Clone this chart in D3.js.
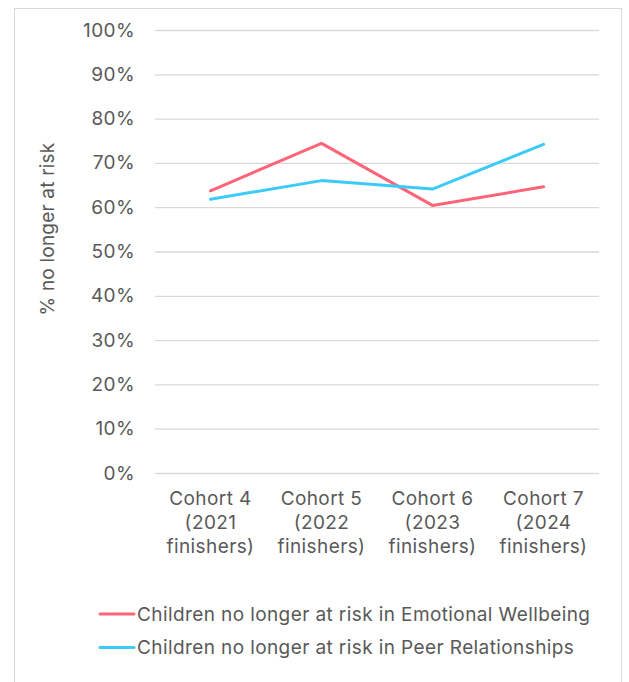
<!DOCTYPE html>
<html>
<head>
<meta charset="utf-8">
<script src="https://cdn.jsdelivr.net/npm/d3@7"></script>
<style>
  body { margin: 0; background: #fff; }
  text { font-family: Inter, "Noto Sans", sans-serif; fill: #595959; letter-spacing: 0.4px; }
</style>
</head>
<body>
<div id="canvas"></div>
<script>
const cohorts = ["Cohort 4|(2021|finishers)", "Cohort 5|(2022|finishers)", "Cohort 6|(2023|finishers)", "Cohort 7|(2024|finishers)"];
const emotional = [63.7, 74.4, 60.4, 64.6];
const peer = [61.8, 66.0, 64.1, 74.2];
const yTicks = [0, 10, 20, 30, 40, 50, 60, 70, 80, 90, 100];
const seriesNames = ["Children no longer at risk in Emotional Wellbeing", "Children no longer at risk in Peer Relationships"];
const seriesColors = ["#ff6479", "#3ccaf8"];

const w = 629, h = 682;
const plotL = 155, plotR = 599, plotT = 30, plotB = 473;
const fs = "19px";

const svg = d3.select("#canvas").append("svg").attr("width", w).attr("height", h);

// outer frame
svg.append("rect").attr("x", 14.5).attr("y", 8.5).attr("width", 607).attr("height", 690)
   .attr("fill", "none").attr("stroke", "#d9d9d9").attr("stroke-width", 1);

const xScale = d3.scaleBand().domain(cohorts).range([plotL, plotR]);
const yScale = d3.scaleLinear().domain([0, 100]).range([plotB, plotT]);

// gridlines
svg.append("g").selectAll("line").data(yTicks).enter().append("line")
   .attr("x1", plotL).attr("x2", plotR)
   .attr("y1", d => yScale(d) + 0.5).attr("y2", d => yScale(d) + 0.5)
   .attr("stroke", "#d9d9d9").attr("stroke-width", 1.3);

const yAxis = d3.axisLeft(yScale).tickValues(yTicks).tickFormat(d => d + "%").tickSize(0).tickPadding(20);
const gy = svg.append("g").attr("transform", "translate(" + plotL + ",0)").call(yAxis);
gy.select(".domain").remove();
gy.selectAll("text").style("font-size", fs).style("fill", "#595959").style("font-family", "Inter");

// x labels, multi-line
const gx = svg.append("g");
cohorts.forEach(c => {
  const cx = xScale(c) + xScale.bandwidth() / 2;
  const t = gx.append("text").attr("text-anchor", "middle")
    .attr("x", cx).attr("y", 505)
    .style("font-size", fs);
  c.split("|").forEach((ln, i) => {
    t.append("tspan").attr("x", cx).attr("dy", i == 0 ? 0 : 24).text(ln);
  });
});

svg.append("text").text("% no longer at risk")
   .attr("transform", "translate(54,229) rotate(-90)")
   .attr("text-anchor", "middle").style("font-size", fs).style("letter-spacing", "0.2px");

const line = d3.line().x((d, i) => xScale(cohorts[i]) + xScale.bandwidth() / 2).y(d => yScale(d));
[emotional, peer].forEach((s, k) => {
  svg.append("path").datum(s).attr("d", line).attr("fill", "none")
     .attr("stroke", seriesColors[k]).attr("stroke-width", 3).attr("stroke-linecap", "round").attr("stroke-linejoin", "round");
});

// legend
seriesNames.forEach((n, k) => {
  const y = 614 + k * 33.5;
  svg.append("line").attr("x1", 100).attr("x2", 134).attr("y1", y).attr("y2", y)
     .attr("stroke", seriesColors[k]).attr("stroke-width", 3).attr("stroke-linecap", "round");
  svg.append("text").text(n).attr("x", 137).attr("y", y + 6.5).style("font-size", fs);
});
</script>
</body>
</html>
